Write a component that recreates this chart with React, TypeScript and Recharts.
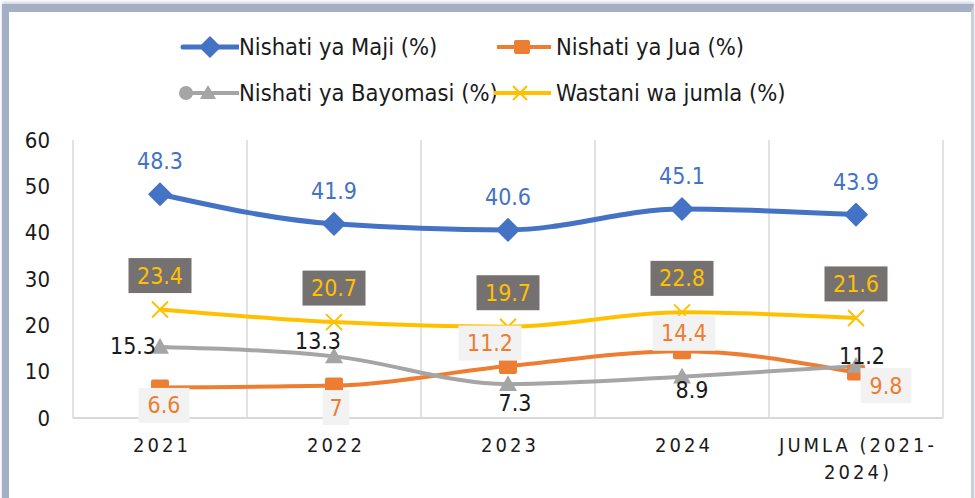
import React from 'react'
import { LineChart, Line, XAxis, YAxis, CartesianGrid, LabelList } from 'recharts'

const YEARS = ['2021', '2022', '2023', '2024', 'JUMLA (2021-2024)']
const MAJI = [48.3, 41.9, 40.6, 45.1, 43.9]
const JUA = [6.6, 7, 11.2, 14.4, 9.8]
const BAYOMASI = [15.3, 13.3, 7.3, 8.9, 11.2]
const WASTANI = [23.4, 20.7, 19.7, 22.8, 21.6]
const Y_TICKS = [0, 10, 20, 30, 40, 50, 60]

// label nudges (dx, dy from the point), same as the original Excel placement
const JUA_LABEL_OFFSETS = [[4, 18], [2, 22], [-18, -23], [2, -18], [30, 13]]
const BAYO_LABEL_OFFSETS = [[-27, -1], [-16, -15], [7, 19], [10, 13], [6, -10]]

const BLUE = '#4472C4'
const ORANGE = '#ED7D31'
const GRAY = '#A5A5A5'
const YELLOW = '#FFC000'
const TEXT = '#1a1a1a'
const FONT = '"DejaVu Sans Condensed", "DejaVu Sans", sans-serif'

const data = YEARS.map((name, i) => ({
  name,
  maji: MAJI[i],
  jua: JUA[i],
  bayo: BAYOMASI[i],
  wastani: WASTANI[i],
}))

const Diamond = ({ cx, cy, s = 11, fill = BLUE }: any) => (
  <path d={`M${cx},${cy - s}L${cx + s},${cy}L${cx},${cy + s}L${cx - s},${cy}Z`} fill={fill} strokeLinejoin="round" stroke={fill} strokeWidth={1.5} />
)
const Square = ({ cx, cy, s = 9 }: any) => (
  <rect x={cx - s} y={cy - s + 1} width={s * 2} height={s * 2 - 2} rx={2} fill={ORANGE} />
)
const Triangle = ({ cx, cy, s = 9 }: any) => (
  <path d={`M${cx},${cy - s}L${cx + s},${cy + s * 0.75}L${cx - s},${cy + s * 0.75}Z`} fill={GRAY} />
)
const Cross = ({ cx, cy, s = 8 }: any) => (
  <path d={`M${cx - s},${cy - s}L${cx + s},${cy + s}M${cx + s},${cy - s}L${cx - s},${cy + s}`} stroke={YELLOW} strokeWidth={2} />
)

const boxLabel = (x: number, y: number, value: any, fill: string, bg: string) => {
  const txt = String(value)
  const w = txt.length * 12 + 15
  return (
    <g>
      <rect x={x - w / 2} y={y - 17.5} width={w} height={35} fill={bg} />
      <text x={x} y={y} textAnchor="middle" dominantBaseline="central" fill={fill} fontSize={23} fontFamily={FONT}>
        {txt}
      </text>
    </g>
  )
}

const XTick = ({ x, y, payload }: any) => {
  const v: string = payload.value
  const lines = v.startsWith('JUMLA') ? ['JUMLA (2021-', '2024)'] : [v]
  return (
    <g>
      {lines.map((l, i) => (
        <text key={i} x={x + 2} y={y + 34 + i * 27} textAnchor="middle" fill={TEXT} fontSize={20} letterSpacing={3} fontFamily={FONT}>
          {l}
        </text>
      ))}
    </g>
  )
}

const LegendItem = ({ icon, label }: any) => (
  <div style={{ display: 'flex', alignItems: 'center', height: 24, whiteSpace: 'nowrap' }}>
    <svg width={62} height={24} style={{ flexShrink: 0 }}>{icon}</svg>
    <span style={{ fontSize: 23.5, color: TEXT, fontFamily: FONT }}>{label}</span>
  </div>
)

export default function App() {
  return (
    <div style={{ position: 'fixed', left: 0, top: 0, width: 975, height: 498, background: '#fff', overflow: 'hidden' }}>
      <div
        style={{
          position: 'absolute',
          left: 2,
          top: 4,
          width: 962,
          height: 500,
          borderLeft: '7px solid #a5afc6',
          borderTop: '8px solid #a5afc6',
          borderRight: '3px solid #c9cfdb',
          boxShadow: '0 -2px 3px #d0d5e0',
        }}
      />
      <div style={{ position: 'absolute', left: 177, top: 35, display: 'grid', gridTemplateColumns: '317px 300px', rowGap: 22 }}>
        <LegendItem
          label="Nishati ya Maji (%)"
          icon={<g><line x1={6} y1={12} x2={62} y2={12} stroke={BLUE} strokeWidth={5} strokeLinecap="round" /><Diamond cx={33} cy={12} s={10} /></g>}
        />
        <LegendItem
          label="Nishati ya Jua (%)"
          icon={<g><line x1={3} y1={12} x2={57} y2={12} stroke={ORANGE} strokeWidth={4} /><Square cx={28} cy={12} s={8} /></g>}
        />
        <LegendItem
          label="Nishati ya Bayomasi (%)"
          icon={<g><line x1={3} y1={12} x2={62} y2={12} stroke={GRAY} strokeWidth={4} /><circle cx={9} cy={12} r={7} fill={GRAY} /><Triangle cx={31} cy={12} s={8} /></g>}
        />
        <LegendItem
          label="Wastani wa jumla (%)"
          icon={<g><line x1={0} y1={12} x2={57} y2={12} stroke={YELLOW} strokeWidth={4} /><Cross cx={26} cy={12} s={7} /></g>}
        />
      </div>
      <div style={{ position: 'absolute', left: 0, top: 0 }}>
        <LineChart width={975} height={498} data={data} margin={{ top: 140, right: 32, bottom: 20, left: 0 }}>
          <CartesianGrid
            horizontal={false}
            stroke="#D9D9D9"
            strokeWidth={1.5}
            verticalCoordinatesGenerator={({ offset }: any) =>
              YEARS.map((_, i) => offset.left + (i * offset.width) / YEARS.length).concat([offset.left + offset.width])
            }
          />
          <XAxis
            dataKey="name"
            padding={{ left: 87, right: 87 }}
            axisLine={{ stroke: '#D9D9D9', strokeWidth: 2 }}
            tickLine={false}
            tickSize={0}
            tickMargin={0}
            height={60}
            interval={0}
            tick={<XTick />}
          />
          <YAxis
            domain={[0, 60]}
            ticks={Y_TICKS}
            width={73}
            axisLine={false}
            tickLine={false}
            tickMargin={17}
            tick={{ fill: TEXT, fontSize: 22, fontFamily: FONT }}
          />
          <Line
            type="monotone"
            dataKey="maji"
            stroke={BLUE}
            strokeWidth={5}
            isAnimationActive={false}
            dot={(p: any) => <Diamond key={p.index} cx={p.cx} cy={p.cy} />}
          >
            <LabelList
              dataKey="maji"
              content={(p: any) => (
                <text x={p.x} y={p.y - 33} textAnchor="middle" dominantBaseline="central" fill={BLUE} fontSize={23} fontFamily={FONT}>
                  {p.value}
                </text>
              )}
            />
          </Line>
          <Line
            type="monotone"
            dataKey="jua"
            stroke={ORANGE}
            strokeWidth={4}
            isAnimationActive={false}
            dot={(p: any) => <Square key={p.index} cx={p.cx} cy={p.cy} />}
          >
            <LabelList
              dataKey="jua"
              content={(p: any) => {
                const [dx, dy] = JUA_LABEL_OFFSETS[p.index] || [0, 0]
                return boxLabel(p.x + dx, p.y + dy, p.value, ORANGE, '#F2F2F2')
              }}
            />
          </Line>
          <Line
            type="monotone"
            dataKey="bayo"
            stroke={GRAY}
            strokeWidth={4}
            isAnimationActive={false}
            dot={(p: any) => <Triangle key={p.index} cx={p.cx} cy={p.cy} />}
          >
            <LabelList
              dataKey="bayo"
              content={(p: any) => {
                const [dx, dy] = BAYO_LABEL_OFFSETS[p.index] || [0, 0]
                return (
                  <text x={p.x + dx} y={p.y + dy} textAnchor="middle" dominantBaseline="central" fill={TEXT} fontSize={23} fontFamily={FONT}>
                    {p.value}
                  </text>
                )
              }}
            />
          </Line>
          <Line
            type="monotone"
            dataKey="wastani"
            stroke={YELLOW}
            strokeWidth={4}
            isAnimationActive={false}
            dot={(p: any) => <Cross key={p.index} cx={p.cx} cy={p.cy} />}
          >
            <LabelList
              dataKey="wastani"
              content={(p: any) => boxLabel(p.x, p.y - 34, p.value, YELLOW, '#767171')}
            />
          </Line>
        </LineChart>
      </div>
    </div>
  )
}
